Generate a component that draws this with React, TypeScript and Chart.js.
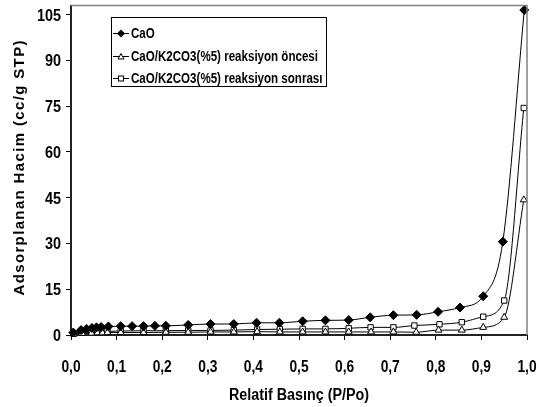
import React, { useEffect, useRef } from "react";
import { Chart, registerables } from "chart.js";

Chart.register(...registerables);

// ---- data ----
const seriesNames = [
  "CaO",
  "CaO/K2CO3(%5) reaksiyon öncesi",
  "CaO/K2CO3(%5) reaksiyon sonrası",
];

const pCaO = [0.005, 0.022, 0.034, 0.046, 0.056, 0.066, 0.082, 0.109, 0.134, 0.159, 0.184, 0.208, 0.257, 0.306, 0.357, 0.407, 0.457, 0.508, 0.558, 0.609, 0.656, 0.707, 0.758, 0.805, 0.853, 0.904, 0.947, 0.994];
const vCaO = [0.8, 1.6, 2.0, 2.3, 2.5, 2.6, 2.8, 2.9, 2.9, 2.9, 3.0, 3.0, 3.3, 3.6, 3.6, 4.0, 4.0, 4.5, 4.8, 4.9, 5.8, 6.5, 6.6, 7.6, 9.0, 12.7, 30.6, 106.5];

const pOncesi = [0.006, 0.024, 0.045, 0.058, 0.069, 0.08, 0.109, 0.159, 0.208, 0.257, 0.306, 0.357, 0.408, 0.458, 0.508, 0.558, 0.609, 0.658, 0.707, 0.757, 0.806, 0.857, 0.904, 0.95, 0.993];
const vOncesi = [0.3, 0.5, 0.6, 0.7, 0.7, 0.8, 0.8, 0.8, 0.9, 0.9, 1.0, 1.0, 1.1, 1.0, 1.0, 1.0, 1.0, 1.0, 1.0, 0.9, 1.6, 1.6, 2.5, 5.8, 44.3];

const pSonrasi = [0.006, 0.024, 0.045, 0.058, 0.069, 0.08, 0.109, 0.159, 0.208, 0.257, 0.306, 0.357, 0.408, 0.458, 0.508, 0.558, 0.609, 0.657, 0.707, 0.753, 0.808, 0.857, 0.904, 0.95, 0.993];
const vSonrasi = [0.5, 0.8, 1.0, 1.1, 1.2, 1.2, 1.3, 1.4, 1.4, 1.5, 1.5, 1.6, 1.8, 1.9, 2.0, 2.0, 2.2, 2.5, 2.5, 3.1, 3.5, 4.2, 6.0, 11.3, 74.4];

const xTicks = [0, 0.1, 0.2, 0.3, 0.4, 0.5, 0.6, 0.7, 0.8, 0.9, 1.0];
const yTicks = [0, 15, 30, 45, 60, 75, 90, 105];

const xTitle = "Relatif Basınç (P/Po)";
const yTitle = "Adsorplanan Hacim (cc/g STP)";

const FONT = "'Liberation Sans', Arial, sans-serif";

function toPts(xs: number[], ys: number[]) {
  return xs.map((x, i) => ({ x, y: ys[i] }));
}

// draw horizontally condensed text
function squeezeText(
  ctx: CanvasRenderingContext2D,
  text: string,
  x: number,
  y: number,
  align: "left" | "center" | "right",
  sx: number
) {
  const w = ctx.measureText(text).width * sx;
  let left = x;
  if (align === "center") left = x - w / 2;
  else if (align === "right") left = x - w;
  ctx.save();
  ctx.translate(left, y);
  ctx.scale(sx, 1);
  ctx.textAlign = "left";
  ctx.fillText(text, 0, 0);
  ctx.restore();
}

function drawMarker(ctx: CanvasRenderingContext2D, kind: number, x: number, y: number) {
  ctx.save();
  ctx.lineWidth = 1;
  ctx.strokeStyle = "#000";
  if (kind === 0) {
    ctx.fillStyle = "#000";
    ctx.beginPath();
    ctx.moveTo(x, y - 4);
    ctx.lineTo(x + 4, y);
    ctx.lineTo(x, y + 4);
    ctx.lineTo(x - 4, y);
    ctx.closePath();
    ctx.fill();
  } else if (kind === 1) {
    ctx.fillStyle = "#fff";
    ctx.beginPath();
    ctx.moveTo(x, y - 3);
    ctx.lineTo(x + 3, y + 2.5);
    ctx.lineTo(x - 3, y + 2.5);
    ctx.closePath();
    ctx.fill();
    ctx.stroke();
  } else {
    ctx.fillStyle = "#fff";
    ctx.fillRect(x - 2.5, y - 2.5, 5, 5);
    ctx.strokeRect(x - 2.5, y - 2.5, 5, 5);
  }
  ctx.restore();
}

const decorPlugin = {
  id: "decor",
  afterDraw(chart: any) {
    const ctx: CanvasRenderingContext2D = chart.ctx;
    const a = chart.chartArea;
    const xs = chart.scales.x;
    const ys = chart.scales.y;
    ctx.save();
    // frame top & right
    ctx.strokeStyle = "#808080";
    ctx.lineWidth = 1.5;
    ctx.beginPath();
    ctx.moveTo(a.left, a.top);
    ctx.lineTo(a.right, a.top);
    ctx.lineTo(a.right, a.bottom);
    ctx.stroke();

    // tick labels
    ctx.fillStyle = "#000";
    ctx.font = `bold 16px ${FONT}`;
    ctx.textBaseline = "alphabetic";
    xTicks.forEach((v) => {
      const px = xs.getPixelForValue(v);
      squeezeText(ctx, v.toFixed(1).replace(".", ","), px, 372, "center", 0.86);
    });
    yTicks.forEach((v) => {
      const py = ys.getPixelForValue(v);
      squeezeText(ctx, String(v), 61, py + 6, "right", 0.9);
    });

    // legend
    const bx = 111.5, by = 17.5, bw = 215, bh = 69;
    ctx.fillStyle = "#fff";
    ctx.fillRect(bx, by, bw, bh);
    ctx.strokeStyle = "#000";
    ctx.lineWidth = 1;
    ctx.strokeRect(bx, by, bw, bh);
    const rows = [33.5, 56.5, 78.5];
    ctx.font = `bold 14px ${FONT}`;
    const legSx = 187 / ctx.measureText(seriesNames[1]).width;
    seriesNames.forEach((name, i) => {
      const y = rows[i];
      ctx.strokeStyle = "#000";
      ctx.lineWidth = 1;
      ctx.beginPath();
      ctx.moveTo(113, y);
      ctx.lineTo(129, y);
      ctx.stroke();
      drawMarker(ctx, i, 121, y);
      ctx.fillStyle = "#000";
      ctx.font = `bold 14px ${FONT}`;
      ctx.textBaseline = "alphabetic";
      squeezeText(ctx, name, 131, y + 4.5, "left", legSx);
    });

    // x title
    ctx.fillStyle = "#000";
    ctx.font = `bold 16px ${FONT}`;
    ctx.textBaseline = "alphabetic";
    const tSx = 140 / ctx.measureText(xTitle).width;
    squeezeText(ctx, xTitle, 299, 400, "center", tSx);

    // y title
    ctx.save();
    ctx.font = `bold 15px ${FONT}`;
    const w0 = ctx.measureText(yTitle).width;
    const target = 255;
    const sp = Math.max(0, (target - w0) / (yTitle.length - 1));
    ctx.translate(24, 168);
    ctx.rotate(-Math.PI / 2);
    (ctx as any).letterSpacing = `${sp}px`;
    ctx.textAlign = "left";
    ctx.textBaseline = "alphabetic";
    ctx.fillText(yTitle, -target / 2, 0);
    ctx.restore();

    ctx.restore();
  },
};

export default function App() {
  const ref = useRef<HTMLCanvasElement>(null);
  useEffect(() => {
    if (!ref.current) return;
    const base = {
      showLine: true,
      borderColor: "#000",
      borderWidth: 1,
      cubicInterpolationMode: "monotone" as const,
      pointBorderColor: "#000",
      pointBorderWidth: 1,
      clip: false as any,
    };
    const chart = new Chart(ref.current, {
      type: "scatter",
      data: {
        datasets: [
          {
            ...base,
            label: seriesNames[0],
            data: toPts(pCaO, vCaO),
            pointStyle: "rectRot",
            pointRadius: 4.5,
            pointBackgroundColor: "#000",
          },
          {
            ...base,
            label: seriesNames[1],
            data: toPts(pOncesi, vOncesi),
            pointStyle: "triangle",
            pointRadius: 4,
            pointBackgroundColor: "#fff",
          },
          {
            ...base,
            label: seriesNames[2],
            data: toPts(pSonrasi, vSonrasi),
            pointStyle: "rect",
            pointRadius: 3.8,
            pointBackgroundColor: "#fff",
          },
        ],
      },
      options: {
        animation: false,
        responsive: false,
        devicePixelRatio: 1,
        layout: { padding: { left: 0, right: 12, top: 5, bottom: 0 } },
        plugins: {
          legend: { display: false },
          tooltip: { enabled: false },
        },
        scales: {
          x: {
            type: "linear",
            min: 0,
            max: 1,
            afterFit: (s: any) => { s.height = 72; },
            afterBuildTicks: (s: any) => { s.ticks = xTicks.map((v) => ({ value: v })); },
            ticks: { display: false, autoSkip: false },
            grid: { drawOnChartArea: false, drawTicks: true, tickLength: 5, color: "#000", tickWidth: 1 },
            border: { display: true, color: "#222", width: 2 },
          },
          y: {
            type: "linear",
            min: 0,
            max: 108,
            afterFit: (s: any) => { s.width = 71; },
            afterBuildTicks: (s: any) => { s.ticks = yTicks.map((v) => ({ value: v })); },
            ticks: { display: false, autoSkip: false },
            grid: { drawOnChartArea: false, drawTicks: true, tickLength: 5, color: "#000", tickWidth: 1 },
            border: { display: true, color: "#222", width: 2 },
          },
        },
      },
      plugins: [decorPlugin],
    });
    return () => chart.destroy();
  }, []);
  return (
    <div style={{ position: "fixed", left: 0, top: 0, width: 539, height: 407, background: "#fff" }}>
      <canvas ref={ref} width={539} height={407} style={{ width: 539, height: 407, display: "block" }} />
    </div>
  );
}
